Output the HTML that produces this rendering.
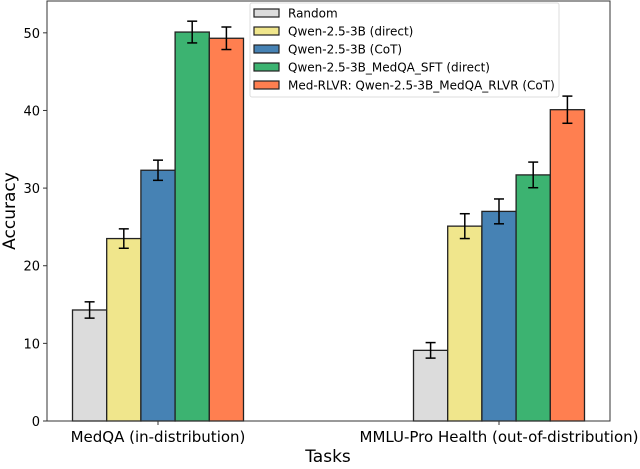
<!DOCTYPE html>
<html><head><meta charset="utf-8"><style>
body{margin:0;background:#fff}
text{font-family:"DejaVu Sans","Liberation Sans",sans-serif;fill:#000}
</style></head><body>
<svg width="640" height="464" xmlns="http://www.w3.org/2000/svg">
<g id="plot"></g>
</svg>
<script>
const categories=["MedQA (in-distribution)","MMLU-Pro Health (out-of-distribution)"];
const seriesNames=["Random","Qwen-2.5-3B (direct)","Qwen-2.5-3B (CoT)","Qwen-2.5-3B_MedQA_SFT (direct)","Med-RLVR: Qwen-2.5-3B_MedQA_RLVR (CoT)"];
const colors=["#dcdcdc","#f0e68c","#4682b4","#3cb371","#ff7f50"];
const randomVals=[14.3,9.1];
const directVals=[23.5,25.1];
const cotVals=[32.3,27.0];
const sftVals=[50.1,31.7];
const rlvrVals=[49.3,40.1];
const randomErr=[1.05,1.0];
const directErr=[1.25,1.6];
const cotErr=[1.3,1.6];
const sftErr=[1.4,1.65];
const rlvrErr=[1.45,1.75];
const yTicks=[0,10,20,30,40,50];

const series=[randomVals,directVals,cotVals,sftVals,rlvrVals];
const errs=[randomErr,directErr,cotErr,sftErr,rlvrErr];
const L=47,R=610,T=1,B=421,yMax=54.1;
const groupCenters=[158,499];
const bw=34.2;
const y=v=>B-(v/yMax)*(B-T);
const ns="http://www.w3.org/2000/svg";
const svg=document.querySelector('svg');
function mk(tag,attrs,parent){const e=document.createElementNS(ns,tag);for(const k in attrs)e.setAttribute(k,attrs[k]);(parent||svg).appendChild(e);return e;}

series.forEach((vals,s)=>{
  vals.forEach((v,c)=>{
    const x=groupCenters[c]+(s-2.5)*bw;
    const r=mk('rect',{x:x,y:y(v),width:bw,height:B-y(v),fill:colors[s],stroke:'#222','stroke-width':1.3});
    
    
    const cx=x+bw/2,e=errs[s][c];
    const g=mk('g',{stroke:'#000','stroke-width':1.5});
    
    
    mk('line',{x1:cx,x2:cx,y1:y(v+e),y2:y(v-e)},g);
    mk('line',{x1:cx-5,x2:cx+5,y1:y(v+e),y2:y(v+e)},g);
    mk('line',{x1:cx-5,x2:cx+5,y1:y(v-e),y2:y(v-e)},g);
  });
});
const fr=mk('rect',{x:L,y:T,width:R-L,height:B-T,fill:'none',stroke:'#333','stroke-width':1});


yTicks.forEach(t=>{
  mk('line',{x1:L-4,x2:L,y1:y(t),y2:y(t),stroke:'#333'});
  const tx=mk('text',{x:L-7,y:y(t)+5,'text-anchor':'end','font-size':13});
  tx.textContent=t;
  
  
});
categories.forEach((c,i)=>{
  mk('line',{x1:groupCenters[i],x2:groupCenters[i],y1:B,y2:B+4,stroke:'#333'});
  const tx=mk('text',{x:groupCenters[i],y:442,'text-anchor':'middle','font-size':15});
  tx.textContent=c;
  
  
});
const xt=mk('text',{x:328,y:462,'text-anchor':'middle','font-size':17});
xt.textContent='Tasks';


const yt=mk('text',{x:15,y:211,'text-anchor':'middle','font-size':17,transform:'rotate(-90 15 211)'});
yt.textContent='Accuracy';


const lg=mk('g',{});


mk('rect',{x:250,y:3,width:309,height:94,rx:2,fill:'#fff','fill-opacity':0.85,stroke:'#ddd'},lg);
seriesNames.forEach((n,i)=>{
  const yy=13+i*18;
  const sw=mk('rect',{x:254,y:yy-4,width:25,height:8,fill:colors[i],stroke:'#222','stroke-width':1.2},lg);
  
  
  const t=mk('text',{x:288,y:yy+4.5,'font-size':12},lg);
  t.textContent=n;
  
  
});
</script>
</body></html>
